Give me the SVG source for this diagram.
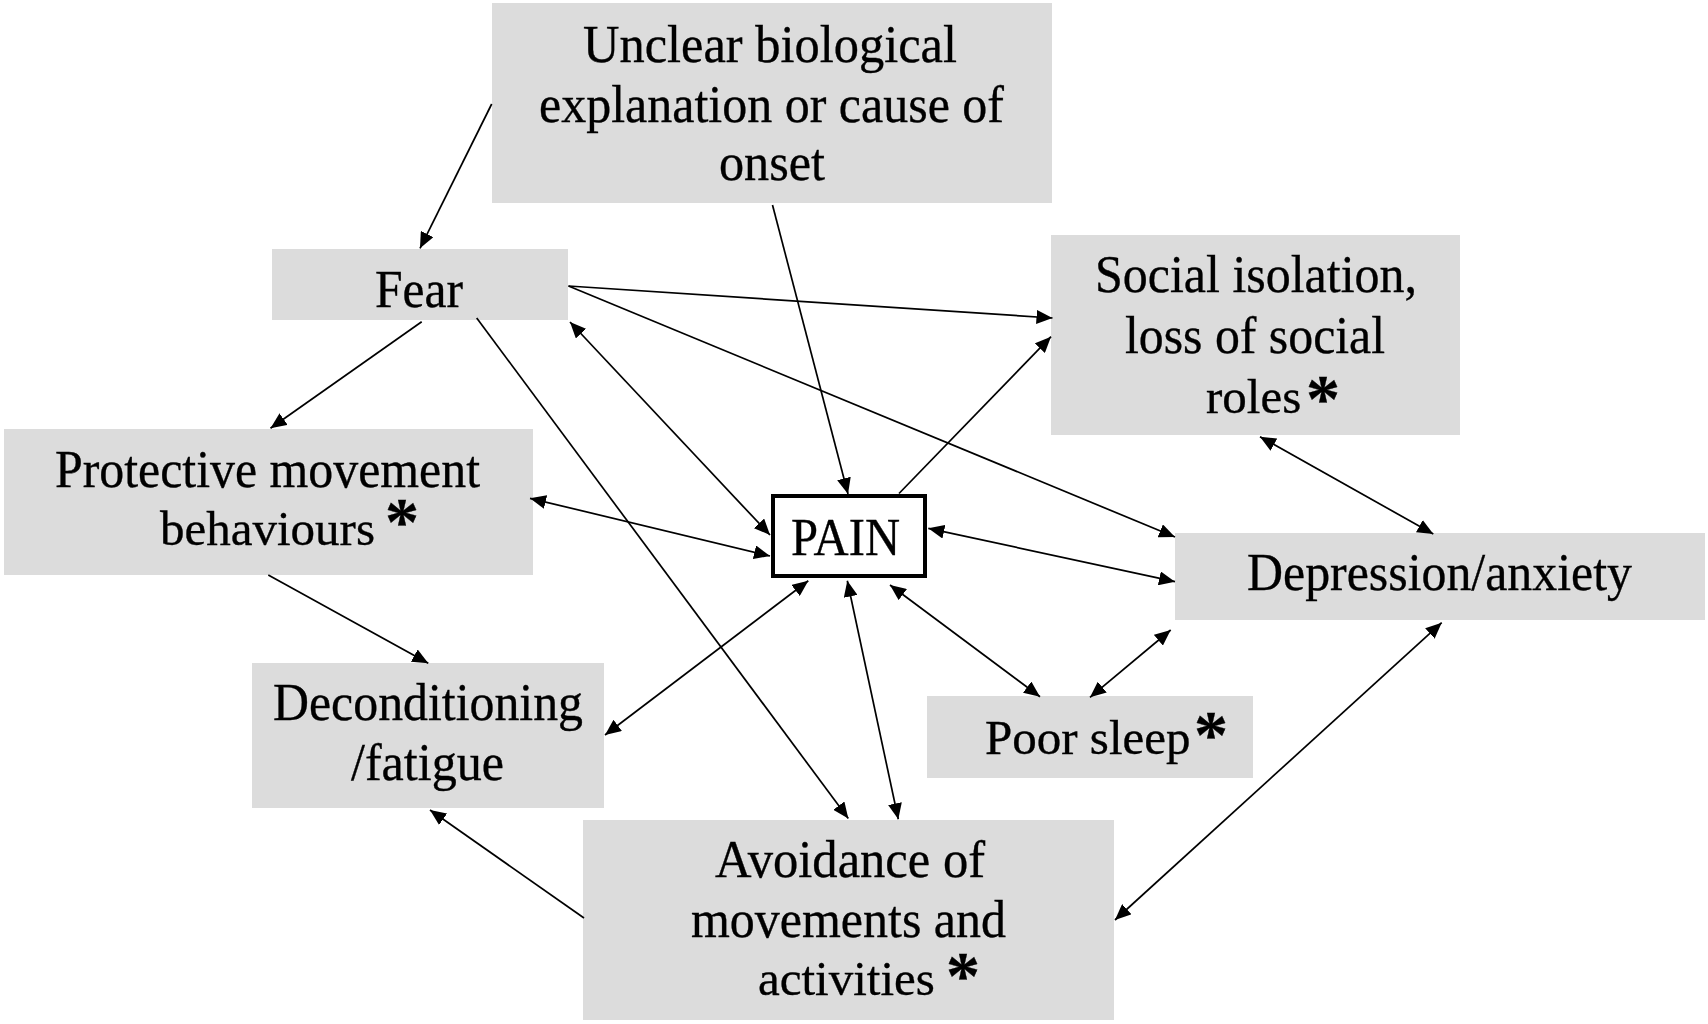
<svg xmlns="http://www.w3.org/2000/svg" width="1708" height="1024" viewBox="0 0 1708 1024">
<style>
  .box { fill: #dcdcdc; }
  .pain { fill: #ffffff; stroke: #000000; stroke-width: 4; }
  .t { font-family: "Liberation Serif", "Times New Roman", serif; font-size: 52px; fill: #000000; stroke: #000000; stroke-width: 0.35; }
  .w { font-size: 49px; }
  .ast { font-size: 68px; font-weight: bold; }
  .c line { stroke: #000000; stroke-width: 1.7; fill: none; }
</style>
<defs>
  <marker id="ah" viewBox="0 0 16 14" refX="16" refY="7" markerWidth="16" markerHeight="14" orient="auto-start-reverse" markerUnits="userSpaceOnUse">
    <path d="M0,0 L16,7 L0,14 z" fill="#000000"/>
  </marker>
</defs>
<rect width="1708" height="1024" fill="#ffffff"/>

<g id="unclear">
  <rect class="box" x="492" y="3" width="560" height="200"/>
  <text class="t"><tspan x="583" y="62" textLength="374" lengthAdjust="spacingAndGlyphs">Unclear biological</tspan><tspan x="539" y="122" textLength="465" lengthAdjust="spacingAndGlyphs">explanation or cause of</tspan><tspan x="719" y="180" textLength="106" lengthAdjust="spacingAndGlyphs">onset</tspan></text>
</g>

<g id="fear">
  <rect class="box" x="272" y="249" width="296" height="71"/>
  <text class="t" x="375" y="307" textLength="88" lengthAdjust="spacingAndGlyphs">Fear</text>
</g>

<g id="protective">
  <rect class="box" x="4" y="429" width="529" height="146"/>
  <text class="t"><tspan x="55" y="487" textLength="425" lengthAdjust="spacingAndGlyphs">Protective movement</tspan><tspan class="w" x="160" y="545">behaviours</tspan><tspan class="ast" x="385" y="544">*</tspan></text>
</g>

<g id="social">
  <rect class="box" x="1051" y="235" width="409" height="200"/>
  <text class="t"><tspan x="1095" y="292" textLength="322" lengthAdjust="spacingAndGlyphs">Social isolation,</tspan><tspan x="1125" y="353" textLength="260" lengthAdjust="spacingAndGlyphs">loss of social</tspan><tspan class="w" x="1206" y="413">roles</tspan><tspan class="ast" x="1306" y="421">*</tspan></text>
</g>

<g id="pain">
  <rect class="pain" x="773" y="496" width="152" height="80"/>
  <text class="t" x="791" y="555" textLength="109" lengthAdjust="spacingAndGlyphs">PAIN</text>
</g>

<g id="depression">
  <rect class="box" x="1175" y="533" width="530" height="87"/>
  <text class="t" x="1247" y="590" textLength="385" lengthAdjust="spacingAndGlyphs">Depression/anxiety</text>
</g>

<g id="poorsleep">
  <rect class="box" x="927" y="696" width="326" height="82"/>
  <text class="t"><tspan class="w" x="985" y="754">Poor sleep</tspan><tspan class="ast" x="1194" y="757">*</tspan></text>
</g>

<g id="deconditioning">
  <rect class="box" x="252" y="663" width="352" height="145"/>
  <text class="t"><tspan x="273" y="720" textLength="310" lengthAdjust="spacingAndGlyphs">Deconditioning</tspan><tspan x="351" y="780" textLength="153" lengthAdjust="spacingAndGlyphs">/fatigue</tspan></text>
</g>

<g id="avoidance">
  <rect class="box" x="583" y="820" width="531" height="200"/>
  <text class="t"><tspan x="715" y="877" textLength="270" lengthAdjust="spacingAndGlyphs">Avoidance of</tspan><tspan x="691" y="937" textLength="315" lengthAdjust="spacingAndGlyphs">movements and</tspan><tspan class="w" x="758" y="995">activities</tspan><tspan class="ast" x="946" y="998">*</tspan></text>
</g>

<g id="connectors" class="c">
  <line x1="491.7" y1="104" x2="420" y2="248.3" marker-end="url(#ah)"/>
  <line x1="772.5" y1="205" x2="848" y2="494" marker-end="url(#ah)"/>
  <line x1="568.5" y1="286" x2="1052.5" y2="318" marker-end="url(#ah)"/>
  <line x1="568.5" y1="286" x2="1175" y2="537" marker-end="url(#ah)"/>
  <line x1="570" y1="322" x2="770" y2="535" marker-start="url(#ah)" marker-end="url(#ah)"/>
  <line x1="421.7" y1="321.7" x2="270.5" y2="428.3" marker-end="url(#ah)"/>
  <line x1="476.7" y1="318" x2="848.3" y2="818.5" marker-end="url(#ah)"/>
  <line x1="530" y1="498.3" x2="770" y2="556" marker-start="url(#ah)" marker-end="url(#ah)"/>
  <line x1="268.3" y1="575" x2="428.3" y2="663.3" marker-end="url(#ah)"/>
  <line x1="899" y1="493.5" x2="1051" y2="336.7" marker-end="url(#ah)"/>
  <line x1="928.3" y1="528.3" x2="1175" y2="581.7" marker-start="url(#ah)" marker-end="url(#ah)"/>
  <line x1="808.3" y1="580.7" x2="605" y2="735" marker-start="url(#ah)" marker-end="url(#ah)"/>
  <line x1="847.3" y1="580.7" x2="898.3" y2="819.3" marker-start="url(#ah)" marker-end="url(#ah)"/>
  <line x1="890" y1="585" x2="1040" y2="696.7" marker-start="url(#ah)" marker-end="url(#ah)"/>
  <line x1="1090" y1="697.3" x2="1170.7" y2="630" marker-start="url(#ah)" marker-end="url(#ah)"/>
  <line x1="1260" y1="436.7" x2="1433.3" y2="534" marker-start="url(#ah)" marker-end="url(#ah)"/>
  <line x1="1441.7" y1="622.7" x2="1115" y2="920" marker-start="url(#ah)" marker-end="url(#ah)"/>
  <line x1="584" y1="918" x2="430" y2="810" marker-end="url(#ah)"/>
</g>
</svg>
